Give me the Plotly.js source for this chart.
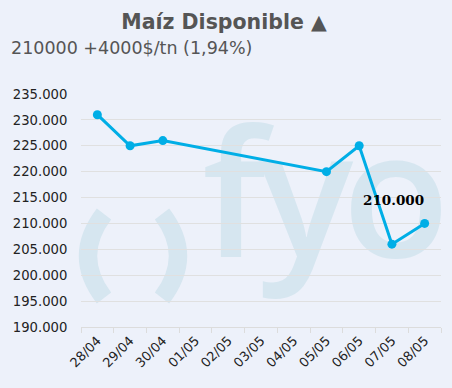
<!DOCTYPE html>
<html>
<head>
<meta charset="utf-8">
<script src="https://cdn.plot.ly/plotly-3.0.1.min.js"></script>
<style>
html,body{margin:0;padding:0;background:#EDF1FA;}
#chart{width:452px;height:388px;}
</style>
</head>
<body>
<div id="chart"></div>
<script>
// ---- data ----
const dates = ['28/04','29/04','30/04','01/05','02/05','03/05','04/05','05/05','06/05','07/05','08/05'];
const prices = [231000, 225000, 226000, null, null, null, null, 220000, 225000, 206000, 210000];
const yTicks = [190000,195000,200000,205000,210000,215000,220000,225000,230000,235000];
const titleText = 'Maíz Disponible ▲';
const subtitleText = '210000 +4000$/tn (1,94%)';

function fmt(v){ return String(Math.round(v)).replace(/\B(?=(\d{3})+(?!\d))/g,'.'); }

const W=452,H=388, M={l:81,r:11,t:94,b:61};
const pw=W-M.l-M.r, ph=H-M.t-M.b;

const wm = '#D6E6F0';
const svg = `<svg xmlns="http://www.w3.org/2000/svg" width="${W}" height="${H}" viewBox="0 0 ${W} ${H}">
<path d="M104 214 Q72 256 104 298" stroke="${wm}" stroke-width="18" fill="none"/>
<path d="M162 214 Q194 256 162 298" stroke="${wm}" stroke-width="18" fill="none"/>
<g font-family="Open Sans, DejaVu Sans, sans-serif" font-weight="600" font-size="176" fill="${wm}" text-anchor="middle">
<text x="234" y="257">f</text><text x="306" y="257">y</text><text x="396" y="257">o</text>
</g></svg>`;
const svgUri = 'data:image/svg+xml;charset=utf-8,' + encodeURIComponent(svg);

const lastIdx = prices.length-1;

const trace = {
  x: dates, y: prices, type:'scatter', mode:'lines+markers', connectgaps:true,
  line:{color:'#00AEE6', width:3}, marker:{color:'#00AEE6', size:9},
  hoverinfo:'skip'
};

const layout = {
  width:W, height:H,
  margin:{l:M.l, r:M.r, t:M.t, b:M.b, pad:0},
  paper_bgcolor:'#EDF1FA', plot_bgcolor:'#EDF1FA',
  separators:',.',
  showlegend:false,
  font:{family:'DejaVu Sans, Verdana, sans-serif', color:'#222'},
  title:{text:'<b>'+titleText+'</b>', xref:'container', yref:'container', x:224/W, xanchor:'center', y:1-22/H, yanchor:'middle',
         font:{family:'DejaVu Sans, Verdana, sans-serif', size:20.5, color:'#555'}},
  xaxis:{type:'category', range:[-0.5, dates.length-0.5], tickson:'boundaries', ticks:'outside', ticklen:5, tickcolor:'#dcdcdc',
         showline:true, linecolor:'#dcdcdc', linewidth:1, showgrid:false, zeroline:false,
         tickangle:-45, tickfont:{size:13, color:'#222'}, fixedrange:true},
  yaxis:{range:[190000,235000], tickvals:yTicks, ticktext:yTicks.map(fmt),
         showgrid:true, gridcolor:'#E0E0E0', gridwidth:1, zeroline:false, showline:false,
         ticks:'outside', ticklen:10, tickcolor:'rgba(0,0,0,0)', tickfont:{size:13.2, color:'#222'}, fixedrange:true},
  images:[{source:svgUri, xref:'paper', yref:'paper', x:-M.l/pw, y:(H-M.b)/ph, sizex:W/pw, sizey:H/ph,
           xanchor:'left', yanchor:'top', sizing:'stretch', layer:'below'}],
  annotations:[
    {text:subtitleText, xref:'paper', yref:'paper', x:(9-M.l)/pw, y:(H-M.b-48)/ph, xanchor:'left', yanchor:'middle',
     showarrow:false, font:{family:'DejaVu Sans, Verdana, sans-serif', size:17.5, color:'#555'}},
    {text:'<b>'+fmt(prices[lastIdx])+'</b>', x:dates[lastIdx], y:prices[lastIdx], xref:'x', yref:'y',
     xanchor:'right', yanchor:'middle', yshift:23, xshift:1, showarrow:false,
     font:{family:'DejaVu Serif, serif', size:13.5, color:'#000'}}
  ]
};

Plotly.newPlot('chart',[trace],layout,{displayModeBar:false, staticPlot:true});
</script>
</body>
</html>
